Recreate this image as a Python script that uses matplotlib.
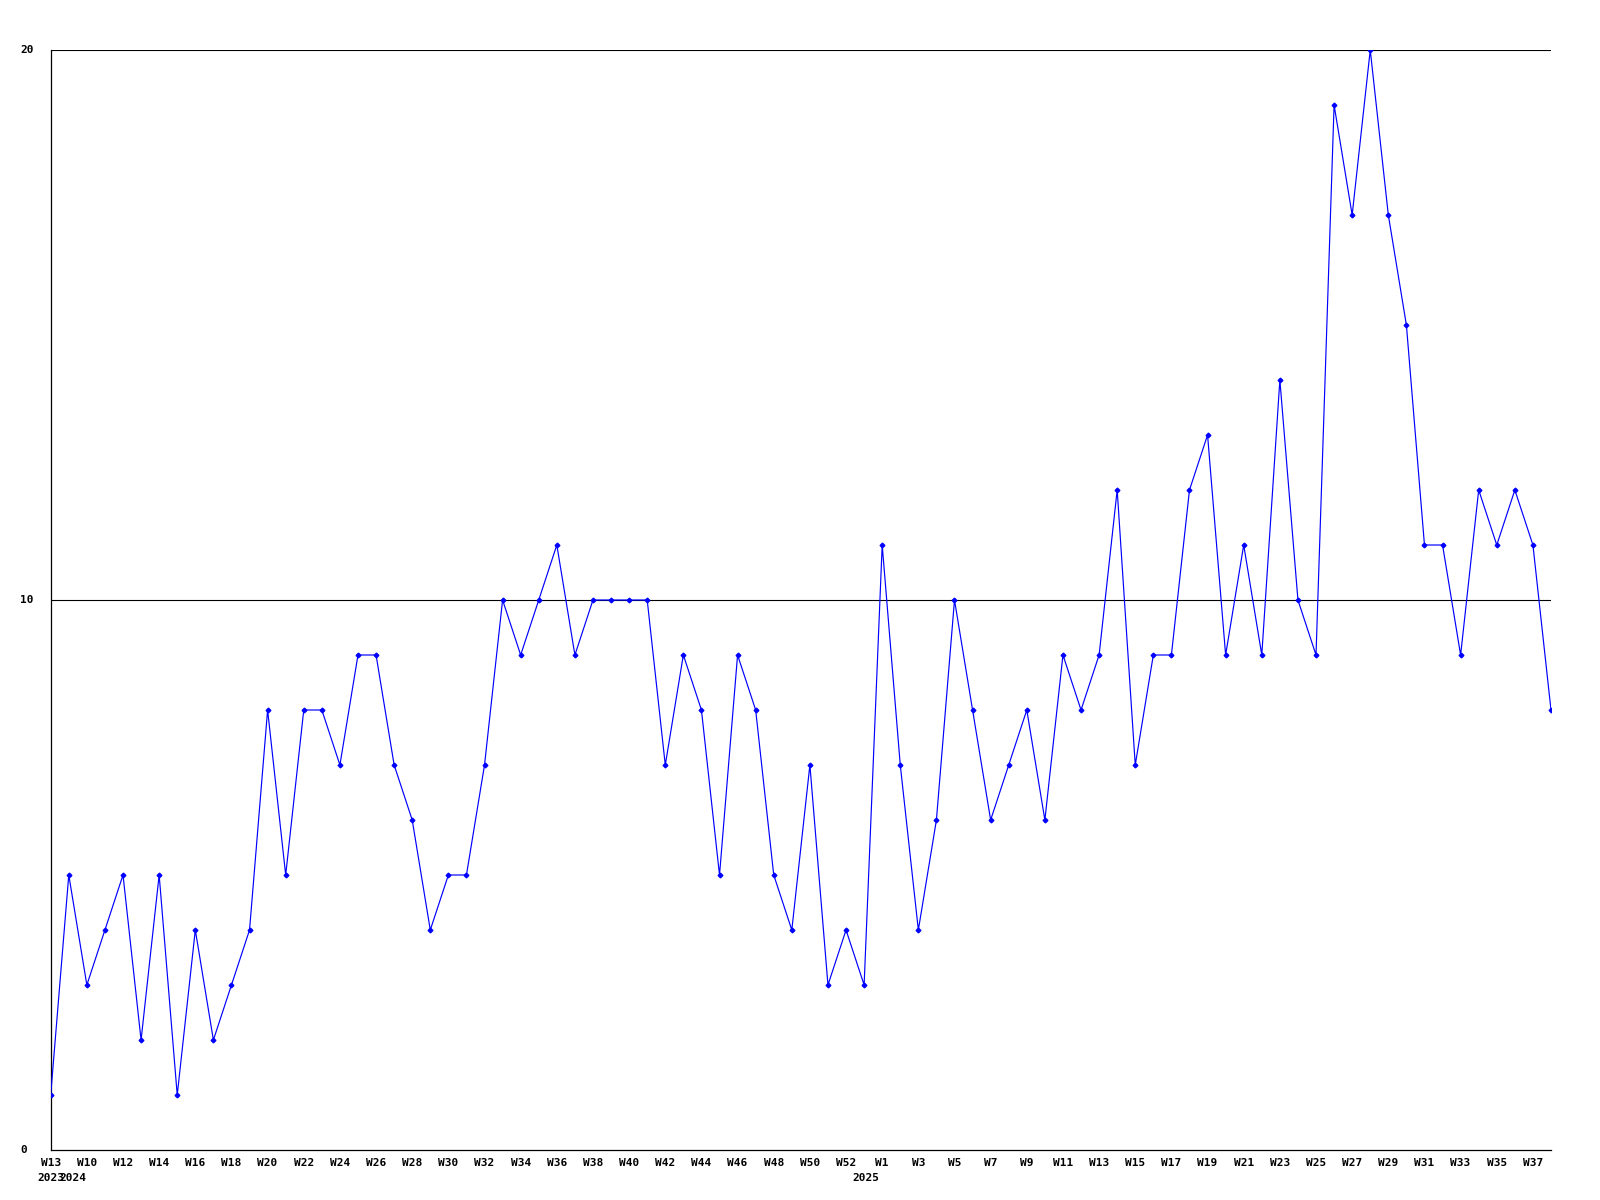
import numpy as np
import matplotlib
matplotlib.use('Agg')
import matplotlib.pyplot as plt
from matplotlib.transforms import blended_transform_factory

# weekly counts, 2023 W13 then 2024 W9 .. 2025 W38
weeks = ['W13', 'W9', 'W10', 'W11', 'W12', 'W13', 'W14', 'W15', 'W16', 'W17',
         'W18', 'W19', 'W20', 'W21', 'W22', 'W23', 'W24', 'W25', 'W26', 'W27',
         'W28', 'W29', 'W30', 'W31', 'W32', 'W33', 'W34', 'W35', 'W36', 'W37',
         'W38', 'W39', 'W40', 'W41', 'W42', 'W43', 'W44', 'W45', 'W46', 'W47',
         'W48', 'W49', 'W50', 'W51', 'W52', 'W53',
         'W1', 'W2', 'W3', 'W4', 'W5', 'W6', 'W7', 'W8', 'W9', 'W10',
         'W11', 'W12', 'W13', 'W14', 'W15', 'W16', 'W17', 'W18', 'W19', 'W20',
         'W21', 'W22', 'W23', 'W24', 'W25', 'W26', 'W27', 'W28', 'W29', 'W30',
         'W31', 'W32', 'W33', 'W34', 'W35', 'W36', 'W37', 'W38']
counts = [1, 5, 3, 4, 5, 2, 5, 1, 4, 2,
          3, 4, 8, 5, 8, 8, 7, 9, 9, 7,
          6, 4, 5, 5, 7, 10, 9, 10, 11, 9,
          10, 10, 10, 10, 7, 9, 8, 5, 9, 8,
          5, 4, 7, 3, 4, 3,
          11, 7, 4, 6, 10, 8, 6, 7, 8, 6,
          9, 8, 9, 12, 7, 9, 9, 12, 13, 9,
          11, 9, 14, 10, 9, 19, 17, 20, 17, 15,
          11, 11, 9, 12, 11, 12, 11, 8]
years = ['2023', '2024', '2025']
year_pos = [0, 1.2, 45.1]

x = np.arange(len(counts))

fig = plt.figure(figsize=(16, 12), dpi=100)
ax = fig.add_axes([50.7 / 1600, 50 / 1200, (1551 - 50.7) / 1600, 1100 / 1200])

font = dict(family='DejaVu Sans Mono', weight='bold', size=8)

for v in [10, 20]:
    ax.axhline(v, color='black', lw=0.8, zorder=1)

ax.plot(x, counts, color='#0000ff', lw=0.85, marker='D', markersize=2.4, zorder=3)

ax.set_xlim(0, len(counts) - 1)
ax.set_ylim(0, 20)

ax.spines['top'].set_visible(False)
ax.spines['right'].set_visible(False)
ax.spines['left'].set_linewidth(0.9)
ax.spines['bottom'].set_linewidth(0.9)

ticks = x[::2]
ax.set_xticks(ticks)
ax.set_xticklabels([weeks[i] for i in ticks], fontdict=font)
ax.tick_params(axis='x', length=0, pad=5.5)

ax.set_yticks([])
ty = blended_transform_factory(fig.transFigure, ax.transData)
for v in [0, 10, 20]:
    ax.text(20 / 1600, v, str(v), transform=ty, ha='left', va='center', **font)

# year labels sit under the first week of each year (2023/2024 overlap as in the source)
tx = blended_transform_factory(ax.transData, fig.transFigure)
for yr, p in zip(years, year_pos):
    ax.text(p, 1 - 1178 / 1200, yr, transform=tx, ha='center', va='center', **font)

fig.savefig('out.png', dpi=100, facecolor='white')
